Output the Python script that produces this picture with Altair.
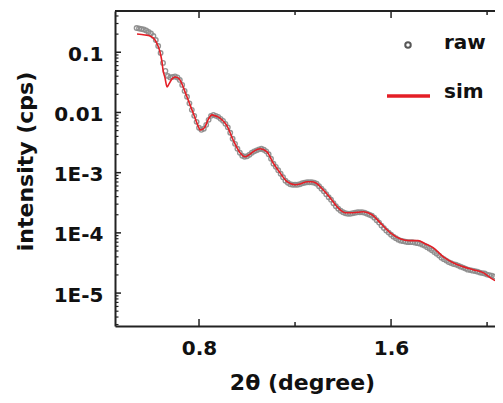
import json
import altair as alt
import pandas as pd

# ---------------- data ----------------
raw_x = [0.54, 0.55, 0.56, 0.57, 0.58, 0.59, 0.60, 0.61, 0.62, 0.63, 0.64, 0.65, 0.66, 0.67,
         0.68, 0.69, 0.70, 0.71, 0.72, 0.73, 0.74, 0.75, 0.76, 0.77, 0.78, 0.79, 0.80, 0.81,
         0.82, 0.83, 0.84, 0.85, 0.86, 0.87, 0.88, 0.89, 0.90, 0.91, 0.92, 0.93, 0.94, 0.95,
         0.96, 0.97, 0.98, 0.99, 1.00, 1.01, 1.02, 1.03, 1.04, 1.05, 1.06, 1.07, 1.08, 1.09,
         1.10, 1.11, 1.12, 1.13, 1.14, 1.15, 1.16, 1.17, 1.18, 1.19, 1.20, 1.21, 1.22, 1.23,
         1.24, 1.25, 1.26, 1.27, 1.28, 1.29, 1.30, 1.31, 1.32, 1.33, 1.34, 1.35, 1.36, 1.37,
         1.38, 1.39, 1.40, 1.41, 1.42, 1.43, 1.44, 1.45, 1.46, 1.47, 1.48, 1.49, 1.50, 1.51,
         1.52, 1.53, 1.54, 1.55, 1.56, 1.57, 1.58, 1.59, 1.60, 1.61, 1.62, 1.63, 1.64, 1.65,
         1.66, 1.67, 1.68, 1.69, 1.70, 1.71, 1.72, 1.73, 1.74, 1.75, 1.76, 1.77, 1.78, 1.79,
         1.80, 1.81, 1.82, 1.83, 1.84, 1.85, 1.86, 1.87, 1.88, 1.89, 1.90, 1.91, 1.92, 1.93,
         1.94, 1.95, 1.96, 1.97, 1.98, 1.99, 2.00, 2.01, 2.02, 2.03]
raw_y = [0.253, 0.248, 0.243, 0.239, 0.230, 0.217, 0.205, 0.186, 0.160, 0.127, 0.0974, 0.0665,
         0.049, 0.0404, 0.0382, 0.0389, 0.0397, 0.0382, 0.0347, 0.0287, 0.0228, 0.0182, 0.01416,
         0.01104, 0.00878, 0.00699, 0.00556, 0.00514, 0.00535, 0.00622, 0.00754, 0.00878, 0.00912,
         0.00878, 0.00845, 0.00783, 0.00726, 0.00647, 0.00566, 0.00459, 0.00365, 0.00301, 0.00249,
         0.00214, 0.00191, 0.00184, 0.00187, 0.00198, 0.00214, 0.00226, 0.00235, 0.00244, 0.00249,
         0.0024, 0.00226, 0.00202, 0.0017, 0.00141, 0.00125, 0.0011, 0.00096, 0.00084, 0.000735,
         0.000681, 0.000643, 0.000631, 0.000631, 0.000631, 0.000643, 0.000667, 0.000681, 0.000694,
         0.000694, 0.000694, 0.000681, 0.000655, 0.000594, 0.00054, 0.000492, 0.000439, 0.000391,
         0.000356, 0.000311, 0.000277, 0.000252, 0.000233, 0.00022, 0.000212, 0.000208, 0.000208,
         0.000212, 0.000216, 0.00022, 0.00022, 0.00022, 0.000216, 0.000208, 0.0002, 0.000193,
         0.000179, 0.000162, 0.000148, 0.000132, 0.00012, 0.000109, 0.000101, 9.33e-5, 8.65e-5,
         8.17e-5, 7.71e-5, 7.43e-5, 7.28e-5, 7.14e-5, 7.01e-5, 7.01e-5, 7.01e-5, 6.88e-5, 6.75e-5,
         6.62e-5, 6.37e-5, 6.14e-5, 5.79e-5, 5.47e-5, 5.16e-5, 4.79e-5, 4.52e-5, 4.19e-5, 3.88e-5,
         3.66e-5, 3.46e-5, 3.27e-5, 3.15e-5, 3.03e-5, 2.97e-5, 2.86e-5, 2.75e-5, 2.65e-5, 2.55e-5,
         2.45e-5, 2.41e-5, 2.36e-5, 2.32e-5, 2.27e-5, 2.19e-5, 2.15e-5, 2.11e-5, 2.03e-5, 1.99e-5,
         1.95e-5, 1.88e-5]

sim_x = [0.5417, 0.575, 0.5958, 0.6167, 0.6292, 0.6375, 0.6458, 0.65, 0.6583, 0.6667, 0.675,
         0.6875, 0.70, 0.7125, 0.7208, 0.7417, 0.7625, 0.7833, 0.7958, 0.8042, 0.8167, 0.825,
         0.8375, 0.8542, 0.8667, 0.8792, 0.8958, 0.9167, 0.9417, 0.9708, 0.9917, 1.0083, 1.025,
         1.0542, 1.0833, 1.1083, 1.1375, 1.1667, 1.20, 1.225, 1.25, 1.2708, 1.2917, 1.3167,
         1.3458, 1.375, 1.4083, 1.4417, 1.4833, 1.5208, 1.5542, 1.5958, 1.6375, 1.6792, 1.7125,
         1.7417, 1.775, 1.8167, 1.8583, 1.90, 1.9417, 1.9833, 2.0125, 2.0333]
sim_y = [0.201, 0.1936, 0.1863, 0.160, 0.1272, 0.101, 0.069, 0.0509, 0.0375, 0.0266, 0.0298,
         0.0361, 0.0389, 0.0375, 0.0347, 0.022, 0.01337, 0.00814, 0.0060, 0.00514, 0.00535,
         0.00577, 0.00754, 0.00912, 0.00878, 0.00845, 0.00754, 0.0060, 0.00352, 0.00214, 0.00184,
         0.00198, 0.00222, 0.00249, 0.00222, 0.00146, 0.0010, 0.000707, 0.000631, 0.000655,
         0.000707, 0.000707, 0.000655, 0.00052, 0.000384, 0.000272, 0.000216, 0.000216, 0.000224,
         0.0002, 0.000148, 0.000101, 8.0e-5, 7.43e-5, 7.43e-5, 6.62e-5, 5.69e-5, 4.03e-5, 3.2e-5,
         2.75e-5, 2.45e-5, 2.19e-5, 1.81e-5, 1.61e-5]

x_major = [0.8, 1.6]
x_minor = [1.2, 2.0]
y_major = [0.1, 0.01, 0.001, 0.0001, 0.00001]
y_major_labels = ["0.1", "0.01", "1E-3", "1E-4", "1E-5"]
legend_labels = ["raw", "sim"]

# ---------------- layout / style ----------------
X_DOMAIN = [0.45, 2.033]
Y_DOMAIN = [2.84e-6, 0.484]
W, H = 380, 315
FONT = "DejaVu Sans"
INK = "#111111"
AX = "#222222"
RED = "#e41e26"

y_minor = [m * d for d in [1e-6, 1e-5, 1e-4, 1e-3, 1e-2, 1e-1] for m in range(2, 10)
           if Y_DOMAIN[0] <= m * d <= Y_DOMAIN[1]]

xs = alt.Scale(domain=X_DOMAIN, nice=False, zero=False)
ys = alt.Scale(type="log", domain=Y_DOMAIN, nice=False)

raw_df = pd.DataFrame({"x": raw_x, "y": raw_y})
sim_df = pd.DataFrame({"x": sim_x, "y": sim_y})

label_expr = f"{json.dumps(y_major_labels)}[indexof({json.dumps(y_major)}, datum.value)]"

x_axis = alt.Axis(values=x_major, format=".1f", title="2θ (degree)", ticks=False, tickSize=0,
                  grid=False, domainColor=AX, domainWidth=2,
                  labelFont=FONT, labelFontSize=20, labelFontWeight="bold", labelColor=INK,
                  labelPadding=12,
                  titleFont=FONT, titleFontSize=22, titleFontWeight="bold", titleColor=INK,
                  titleX=187, titleY=56, titleAlign="center", titleBaseline="middle")
y_axis = alt.Axis(values=y_major, labelExpr=label_expr, title="intensity (cps)", ticks=False,
                  tickSize=0, grid=False, domainColor=AX, domainWidth=2,
                  labelFont=FONT, labelFontSize=20, labelFontWeight="bold", labelColor=INK,
                  labelPadding=12, labelOffset=2,
                  titleFont=FONT, titleFontSize=22, titleFontWeight="bold", titleColor=INK,
                  titleX=-90, titleY=150, titleAngle=270, titleAlign="center",
                  titleBaseline="middle")

X = lambda: alt.X("x:Q", scale=xs, axis=x_axis)
Y = lambda: alt.Y("y:Q", scale=ys, axis=y_axis)

raw_layer = alt.Chart(raw_df).mark_point(
    shape="circle", filled=False, size=20, strokeWidth=1.4, color="#8a8a8a", opacity=0.9
).encode(x=X(), y=Y())

sim_layer = alt.Chart(sim_df).mark_line(color=RED, strokeWidth=1.6, interpolate="monotone").encode(
    x=X(), y=Y()
)

def ydf(vals):
    return pd.DataFrame({"y": vals})

def xdf(vals):
    return pd.DataFrame({"x": vals})

left_major = alt.Chart(ydf(y_major)).mark_rule(color=AX, strokeWidth=1.5).encode(
    y=Y(), x=alt.value(0), x2=alt.value(6))
left_minor = alt.Chart(ydf(y_minor)).mark_rule(color=AX, strokeWidth=1.2).encode(
    y=Y(), x=alt.value(0), x2=alt.value(3.5))

bot_major = alt.Chart(xdf(x_major)).mark_rule(color=AX, strokeWidth=1.5).encode(
    x=X(), y=alt.value(H), y2=alt.value(H - 7))
bot_minor = alt.Chart(xdf(x_minor)).mark_rule(color=AX, strokeWidth=1.5).encode(
    x=X(), y=alt.value(H), y2=alt.value(H - 4))
top_major = alt.Chart(xdf(x_major)).mark_rule(color=AX, strokeWidth=1.5).encode(
    x=X(), y=alt.value(0), y2=alt.value(7))
top_minor = alt.Chart(xdf(x_minor)).mark_rule(color=AX, strokeWidth=1.5).encode(
    x=X(), y=alt.value(0), y2=alt.value(4))

one = pd.DataFrame({"k": [0]})
top_spine = alt.Chart(one).mark_rule(color=AX, strokeWidth=2).encode(
    x=alt.value(0), x2=alt.value(W), y=alt.value(0))

leg_df_raw = pd.DataFrame({"label": [legend_labels[0]]})
leg_df_sim = pd.DataFrame({"label": [legend_labels[1]]})

leg_circle = alt.Chart(leg_df_raw).mark_point(
    shape="circle", filled=False, size=30, strokeWidth=2, color=INK
).encode(x=alt.value(293), y=alt.value(34))
leg_line = alt.Chart(leg_df_sim).mark_rule(color=RED, strokeWidth=3.5).encode(
    x=alt.value(272), x2=alt.value(315), y=alt.value(85))
leg_text_style = dict(font=FONT, fontSize=20, fontWeight="bold", color=INK,
                      align="left", baseline="middle")
leg_raw_text = alt.Chart(leg_df_raw).mark_text(**leg_text_style).encode(
    text="label:N", x=alt.value(329), y=alt.value(32))
leg_sim_text = alt.Chart(leg_df_sim).mark_text(**leg_text_style).encode(
    text="label:N", x=alt.value(329), y=alt.value(81))

chart = alt.layer(
    raw_layer, sim_layer,
    left_major, left_minor, bot_major, bot_minor, top_major, top_minor, top_spine,
    leg_circle, leg_line, leg_raw_text, leg_sim_text,
).properties(
    width=W, height=H,
    padding={"left": 107, "top": 3, "right": 0, "bottom": 71},
    autosize=alt.AutoSizeParams(type="none"),
    background="white",
).configure_view(stroke=None)

chart.save("out.html", embed_options={"renderer": "svg", "actions": False})
